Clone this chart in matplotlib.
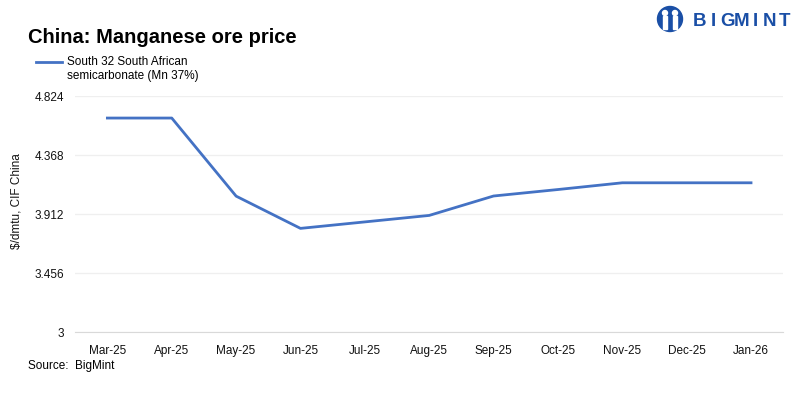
import matplotlib.pyplot as plt
from matplotlib.patches import Ellipse, Rectangle

months = ['Mar-25', 'Apr-25', 'May-25', 'Jun-25', 'Jul-25', 'Aug-25',
          'Sep-25', 'Oct-25', 'Nov-25', 'Dec-25', 'Jan-26']
prices = [4.655, 4.655, 4.052, 3.803, 3.853, 3.903, 4.053, 4.103, 4.155, 4.155, 4.155]
y_ticks = [3, 3.456, 3.912, 4.368, 4.824]
y_labels = ['3', '3.456', '3.912', '4.368', '4.824']
series_name = 'South 32 South African\nsemicarbonate (Mn 37%)'

plt.rcParams['font.family'] = ['Liberation Sans', 'DejaVu Sans']

W, H = 800, 399
fig = plt.figure(figsize=(W / 100, H / 100), dpi=100)
ax = fig.add_axes([0.094, 0.167, 0.885, 0.592])

x = list(range(len(months)))
ax.plot(x, prices, color='#4472c4', linewidth=2)

ax.set_xlim(-0.5, len(months) - 0.5)
ax.set_ylim(3, 4.824)
ax.set_yticks(y_ticks)
ax.set_yticklabels(y_labels)
ax.set_xticks(x)
ax.set_xticklabels(months)
ax.tick_params(length=0, labelsize=8.5, colors='#111111')
ax.tick_params(axis='x', pad=9)
ax.tick_params(axis='y', pad=8)
ax.grid(axis='y', color='#efefef', linewidth=0.9)
ax.set_axisbelow(True)
for s in ['top', 'right', 'left']:
    ax.spines[s].set_visible(False)
ax.spines['bottom'].set_color('#d9d9d9')
ax.spines['bottom'].set_zorder(0)

# y label sits a bit above the axis centre in the original
fig.text(0.021, 0.497, '\\$/dmtu, CIF China', fontsize=8.5, rotation=90,
         va='center', ha='center', color='#111111')

# title, legend, source
fig.text(0.035, 0.905, 'China: Manganese ore price', fontsize=14.5, fontweight='bold',
         va='center', ha='left')
fig.add_artist(plt.Line2D([0.045, 0.078], [0.845, 0.845], color='#4472c4', linewidth=2))
fig.text(0.084, 0.827, series_name, fontsize=8.5, va='center', ha='left', linespacing=1.3)
fig.text(0.035, 0.083, 'Source:  BigMint', fontsize=8.5, va='center', ha='left')

# logo (pixel positions converted to figure fractions)
blue = '#1a4fa6'
for i, ch in enumerate('BIGMINT'):
    fig.text((699 + i * 14.2) / W, 0.947, ch, fontsize=13.5, fontweight='bold',
             color=blue, va='center', ha='center')
fig.add_artist(Ellipse((670 / W, 1 - 19 / H), 25 / W, 25 / H,
                       transform=fig.transFigure, color=blue))
for cx in [665, 675]:
    fig.add_artist(Ellipse((cx / W, 1 - 13 / H), 5 / W, 5 / H,
                           transform=fig.transFigure, color='white'))
    fig.add_artist(Rectangle(((cx - 2) / W, 1 - 29 / H), 4 / W, 13 / H,
                             transform=fig.transFigure, color='white'))

fig.savefig('out.png', dpi=100)
